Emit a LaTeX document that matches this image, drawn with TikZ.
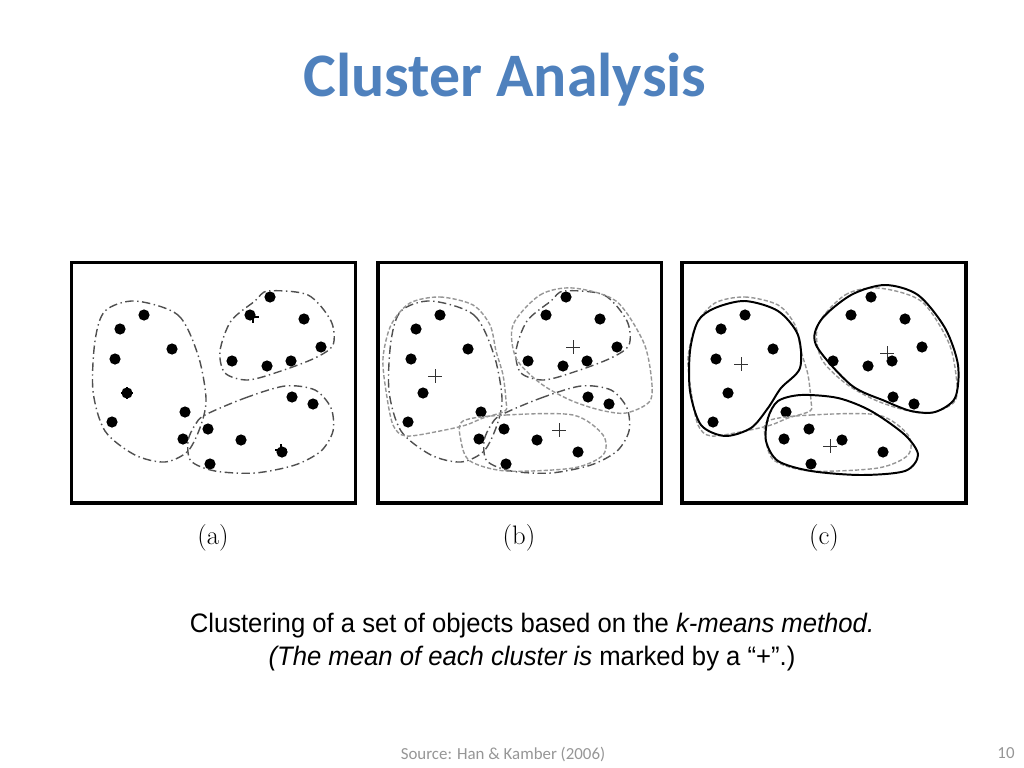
\documentclass[tikz,border=0pt]{standalone}
\usepackage{fontspec}
\newfontfamily\titlefont{Carlito}
\newfontfamily\notefont{Liberation Sans}
\definecolor{titleblue}{RGB}{79,129,189}
\definecolor{srcgray}{RGB}{150,150,150}
\definecolor{olddash}{RGB}{150,150,150}
\definecolor{firstdash}{RGB}{80,80,80}

% cluster outlines, in the local pixel frame of panel (a)
\newcommand\firstleft[1]{\draw[#1] plot[smooth cycle] coordinates {(135,301) (178,315) (198,355) (206,398) (201,425) (188,451) (165,462) (135,455) (105,431) (93,391) (95,341) (105,311)};}
\newcommand\firsttop[1]{\draw[#1] plot[smooth cycle] coordinates {(268,291) (308,295) (331,321) (333,345) (315,358) (281,371) (248,380) (225,373) (220,351) (231,321) (255,301)};}
\newcommand\firstbottom[1]{\draw[#1] plot[smooth cycle] coordinates {(205,415) (245,398) (285,386) (315,390) (331,408) (333,431) (321,451) (295,465) (255,473) (215,471) (191,461) (188,441) (195,425)};}
\newcommand\secondleft[1]{\draw[#1] plot[smooth cycle] coordinates {(114,303) (144,297) (177,305) (194,325) (200,351) (207,375) (210,401) (209,411) (187,418) (170,425) (144,431) (110,436) (97,425) (90,391) (87,358) (95,325)};}
\newcommand\secondtop[1]{\draw[#1] plot[smooth cycle] coordinates {(217,325) (244,295) (277,288) (320,301) (347,341) (355,375) (354,401) (330,413) (304,410) (274,400) (244,383) (220,358)};}
\newcommand\secondbottom[1]{\draw[#1] plot[smooth cycle] coordinates {(167,421) (210,415) (277,415) (307,435) (307,455) (277,468) (210,471) (174,461) (165,441)};}
\newcommand\thirdleft[1]{\draw[#1] plot[smooth cycle] coordinates {(114,308) (144,301) (177,311) (197,335) (199,368) (180,388) (167,408) (150,428) (124,436) (100,425) (89,391) (89,351) (97,321)};}
\newcommand\thirdtop[1]{\draw[#1] plot[smooth cycle] coordinates {(220,320) (250,295) (284,285) (317,295) (344,328) (357,365) (354,398) (334,412) (310,411) (284,401) (250,385) (215,345)};}
\newcommand\thirdbottom[1]{\draw[#1] plot[smooth cycle] coordinates {(167,418) (177,401) (200,395) (237,398) (270,411) (304,435) (317,455) (304,471) (260,475) (210,471) (177,461) (165,441)};}

\begin{document}
\begin{tikzpicture}[x=0.025cm, y=-0.025cm,
    panel/.style={draw, line width=2.2pt},
    obj/.style={circle, fill, inner sep=0pt, minimum size=0.28cm},
    firstline/.style={firstdash, line width=1pt, dash pattern=on 6pt off 2.5pt on 1pt off 2.5pt},
    secondline/.style={olddash, line width=1pt, dash pattern=on 3pt off 1.5pt},
    thirdline/.style={black, line width=1.4pt},
    meanmark/.style={line width=0.6pt},
    caption/.style={font=\fontsize{19}{22}\selectfont}]
  \useasboundingbox (0,0) rectangle (1024,768);

  \node[text=titleblue, font=\titlefont\bfseries\fontsize{44}{50}\selectfont] (title) at (505,80) {Cluster Analysis};

  % the three panels
  \draw[panel] (71.5,262.5) rectangle (355.5,503);
  \draw[panel] (378,262.5) rectangle (661.5,503);
  \draw[panel] (682,262.5) rectangle (966,503);

  \foreach \panel/\dx in {a/0, b/296, c/601}{
    \begin{scope}[shift={(\dx,0)}]
      \foreach \px/\py [count=\i] in {144/315, 120/329, 172/349, 115/359, 127/393, 185/412, 112/422, 183/439,
          270/297, 250/315, 304/319, 321/347, 232/361, 267/366, 291/361,
          292/397, 313/404, 208/429, 241/440, 282/452, 210/464}
        \node[obj] (\panel-\i) at (\px,\py) {};
    \end{scope}
  }

  % (a): first guess
  \firstleft{firstline}
  \firsttop{firstline}
  \firstbottom{firstline}
  \foreach \mx/\my in {127/393, 253/317, 281/450}
    \draw[meanmark, line width=0.8pt] (\mx-6,\my) -- ++(12,0) (\mx,\my-6) -- ++(0,12);

  % (b): update
  \begin{scope}[shift={(296,0)}]
    \firstleft{firstline}
    \firsttop{firstline}
    \firstbottom{firstline}
    \secondleft{secondline}
    \secondtop{secondline}
    \secondbottom{secondline}
    \foreach \mx/\my in {139/376, 277/347, 263/430}
      \draw[meanmark, black!80] (\mx-7,\my) -- ++(14,0) (\mx,\my-7) -- ++(0,14);
  \end{scope}

  % (c): final clusters
  \begin{scope}[shift={(601,0)}]
    \secondleft{secondline}
    \secondtop{secondline}
    \secondbottom{secondline}
    \thirdleft{thirdline}
    \thirdtop{thirdline}
    \thirdbottom{thirdline}
    \foreach \mx/\my in {140/364, 286/353, 229/446}
      \draw[meanmark, black!80] (\mx-7,\my) -- ++(14,0) (\mx,\my-7) -- ++(0,14);
  \end{scope}

  \node[caption] (lab-a) at (213,538) {(a)};
  \node[caption] (lab-b) at (519,538) {(b)};
  \node[caption] (lab-c) at (824,538) {(c)};

  \node[font=\notefont\fontsize{19}{23.5}\selectfont, align=center, xscale=0.96, transform shape] (note) at (532,642)
    {Clustering of a set of objects based on the \textit{k-means method.}\\
     \textit{(The mean of each cluster is} marked by a “+”.)};

  \node[text=srcgray, font=\titlefont\fontsize{12}{14}\selectfont] (source) at (503,754) {Source: Han \& Kamber (2006)};
  \node[text=srcgray, font=\titlefont\fontsize{12}{14}\selectfont] (pageno) at (1006,753) {10};
\end{tikzpicture}
\end{document}
